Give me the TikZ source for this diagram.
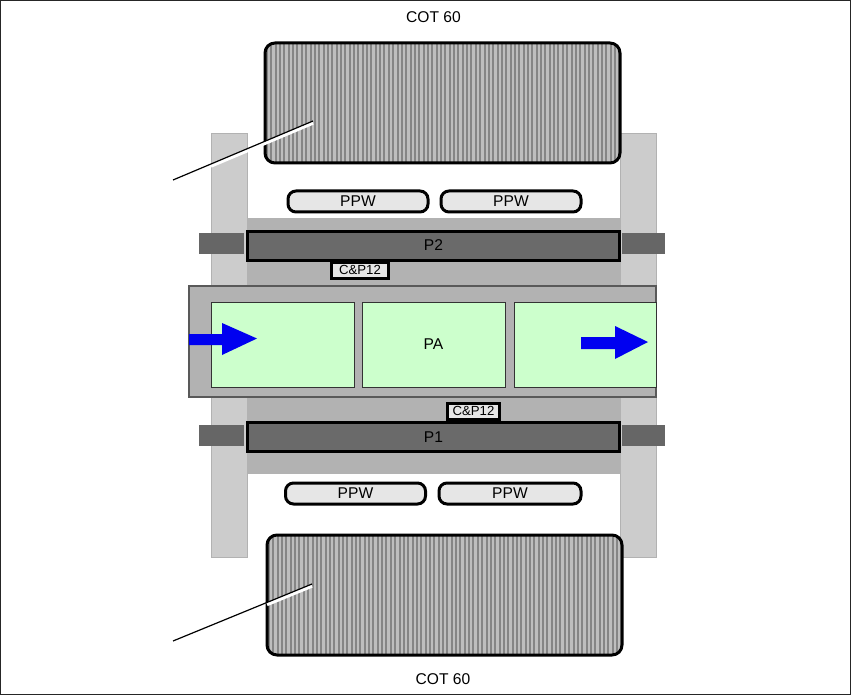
\documentclass[tikz,border=0pt]{standalone}
\usepackage{fontspec}
\setmainfont{Liberation Sans}
\definecolor{colgray}{HTML}{CCCCCC}
\definecolor{bandgray}{HTML}{B2B2B2}
\definecolor{stubgray}{HTML}{666666}
\definecolor{pgray}{HTML}{6A6A6A}
\definecolor{lightfill}{HTML}{E6E6E6}
\definecolor{greenfill}{HTML}{CCFFCC}
\definecolor{hatchbg}{HTML}{BEBEBE}
\definecolor{hatchln}{HTML}{858585}
\definecolor{arrowblue}{HTML}{0000F0}
\tikzset{
  x=1pt,y=-1pt,
  every node/.style={font=\fontsize{15.6}{18}\selectfont,text=black,inner sep=0pt,outer sep=0pt},
  column/.style={fill=colgray,draw=black!30,line width=.6pt},
  stub/.style={fill=stubgray},
  band/.style={fill=bandgray,draw=black!30,line width=.6pt},
  plate/.style={fill=pgray,draw=black,line width=3.4pt},
  ppw/.style={fill=lightfill,draw=black,line width=3pt,rounded corners=8pt},
  cp/.style={fill=lightfill,draw=black,line width=3pt,font=\fontsize{13.2}{15}\selectfont},
  housing/.style={fill=bandgray,draw=black!65,line width=1.2pt},
  green/.style={fill=greenfill,draw=black!80,line width=1pt},
  coil/.style={draw=black,line width=3pt,rounded corners=10pt},
  leader/.style={draw=black,line width=1.2pt},
  halo/.style={draw=white,line width=3.4pt},
  flow/.style={fill=arrowblue,draw=none},
}
\newcommand{\coilbox}[5]{%
  \begin{scope}
    \clip[rounded corners=10pt] (#1,#2) rectangle (#3,#4);
    \fill[hatchbg] (#1,#2) rectangle (#3,#4);
    \pgfmathsetmacro{\xstart}{#1+2}
    \pgfmathsetmacro{\xnext}{#1+6.35}
    \foreach \hx in {\xstart,\xnext,...,#3}
      \draw[hatchln,line width=2pt] (\hx,#2) -- (\hx,#4);
  \end{scope}
  \draw[coil] (#1,#2) rectangle (#3,#4);
  \coordinate (#5) at ({(#1+#3)/2},{(#2+#4)/2});
}
\begin{document}
\begin{tikzpicture}
\useasboundingbox (0,0) rectangle (851,695);
\fill[white] (0,0) rectangle (851,695);
\draw[black!85,line width=1.2pt] (.6,.6) rectangle (850.4,694.4);
% columns
\path[column] (211,133) rectangle (247,557);
\path[column] (620,133) rectangle (656,557);
% band
\path[band] (247,218) rectangle (620,473);
% stubs
\fill[stub] (199,233) rectangle (244,254);
\fill[stub] (622,233) rectangle (665,254);
\fill[stub] (199,425) rectangle (244,446);
\fill[stub] (622,425) rectangle (665,446);
% plates
\node[plate,minimum width=372pt,minimum height=29pt,anchor=center] (p2) at (433.5,246) {\raisebox{1pt}{P2}};
\node[plate,minimum width=372pt,minimum height=29pt,anchor=center] (p1) at (433.5,437) {P1};
\node[cp,minimum width=57pt,minimum height=16pt] (cpa) at (360,270) {C\&P12};
\node[cp,minimum width=52pt,minimum height=16pt] (cpb) at (473.5,411) {C\&P12};
% housing
\path[housing] (189,286) rectangle (656,397);
\node[green,minimum width=143pt,minimum height=85pt] (gl) at (282.5,344.5) {};
\node[green,minimum width=143pt,minimum height=85pt] (pa) at (433.5,344.5) {\raisebox{-2pt}{PA}};
\node[green,minimum width=142pt,minimum height=85pt] (gr) at (585,344.5) {};
% arrows
\path[flow] (189,334) -- (222,334) -- (222,323) -- (257,338.5) -- (222,355) -- (222,345) -- (189,345) -- cycle;
\path[flow] (581,337) -- (615,337) -- (615,326) -- (648,342) -- (615,359) -- (615,349) -- (581,349) -- cycle;
% ppw
\node[ppw,minimum width=140pt,minimum height=21pt] (w1) at (358,201.5) {PPW};
\node[ppw,minimum width=140pt,minimum height=21pt] (w2) at (511,201.5) {PPW};
\node[ppw,minimum width=140pt,minimum height=21pt] (w3) at (355.5,493.5) {PPW};
\node[ppw,minimum width=142pt,minimum height=21pt] (w4) at (510,493.5) {PPW};
% coils
\coilbox{265}{43}{620}{163}{ctop}
\coilbox{267}{535}{622}{655}{cbot}
% leaders
\coordinate (lt) at (173,180);
\coordinate (lb) at (173,641);
\coordinate (tt) at (313,121);
\coordinate (tb) at (312,584);
\draw[halo] (211,166) -- (313,123);
\draw[leader] (lt) -- (tt);
\draw[halo] (267,604.5) -- (312,586);
\draw[leader] (lb) -- (tb);
% labels
\node (cot1) at (433.5,17.5) {COT 60};
\node (cot2) at (443,679.5) {COT 60};
\end{tikzpicture}
\end{document}
